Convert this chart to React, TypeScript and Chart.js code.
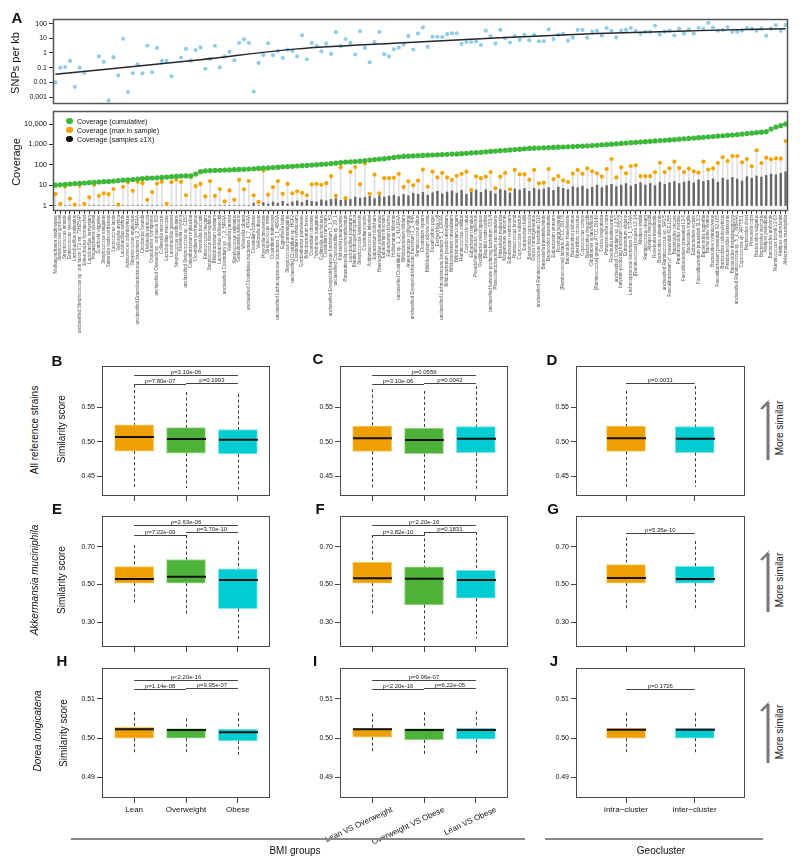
import React, { useEffect, useRef } from 'react';
import { Chart, registerables } from 'chart.js';
Chart.register(...registerables);

const FONT = "'Liberation Sans', Arial, Helvetica, sans-serif";

const species = [
  "Methanosphaera stadtmanae", "Streptococcus gordonii", "Streptococcus infantis", "Enterococcus faecalis",
  "Lactobacillus salivarius", "unclassified Streptococcus sp. oral taxon 071 str. 73H25AP", "Enterobacter hormaechei",
  "Lactobacillus fermentum", "Megasphaera elsdenii", "Scardovia wiggsiae", "Streptococcus sanguinis",
  "Sutterella wadsworthensis", "Lactococcus lactis", "Veillonella atypica", "Lactobacillus ruminis",
  "Actinomyces odontolyticus", "Streptococcus anginosus", "unclassified Enterobacteriaceae bacterium 9_2_54FAA",
  "Citrobacter freundii", "Klebsiella variicola", "Oxalobacter formigenes", "unclassified Olsenella sp. oral taxon 809",
  "Collinsella stercoris", "Lactobacillus mucosae", "Lactobacillus gasseri", "Streptococcus vestibularis",
  "Klebsiella oxytoca", "unclassified Streptococcus sp. C150", "Catenibacterium mitsuokai", "Clostridium perfringens",
  "Prevotella buccalis", "Enterococcus faecium", "Streptococcus thermophilus", "Bifidobacterium dentium",
  "Lactobacillus delbrueckii", "unclassified Clostridium sp. 7_3_54FAA", "Veillonella parvula", "Streptococcus salivarius",
  "Granulicatella adiacens", "Weissella cibaria", "unclassified Clostridiales bacterium 1_7_47FAA", "Clostridium bolteae",
  "Veillonella dispar", "Prevotella timonensis", "Streptococcus mitis", "Clostridium hathewayi",
  "unclassified Lachnospiraceae bacterium 3_1_46FAA", "Eggerthella lenta", "Streptococcus parasanguinis",
  "unclassified Clostridium sp. HGF2", "Clostridium symbiosum", "Gordonibacter pamelaeae", "Bifidobacterium breve",
  "Clostridium citroniae", "Turicibacter sanguinis", "Collinsella aerofaciens", "Clostridium ramosum",
  "unclassified Erysipelotrichaceae bacterium 3_1_53", "unclassified Coprobacillus sp. 29_1", "Klebsiella pneumoniae",
  "Parasutterella excrementihominis", "Lactobacillus plantarum", "Blautia hydrogenotrophica", "Streptococcus lutetiensis",
  "Clostridium nexile", "Acidaminococcus intestini", "Eubacterium dolichum", "Haemophilus parainfluenzae",
  "Eubacterium limosum", "Eubacterium biforme", "Holdemania filiformis", "unclassified Clostridium sp. 1_1_41A1FAA",
  "Bifidobacterium bifidum", "Anaerotruncus colihominis", "unclassified Erysipelotrichaceae bacterium 2_2_44A",
  "Ruminococcus albus", "Clostridium leptum", "Bifidobacterium adolescentis", "Desulfovibrio piger", "Escherichia coli",
  "unclassified Lachnospiraceae bacterium 5_1_63FAA", "Bifidobacterium pseudocatenulatum", "Bifidobacterium catenulatum",
  "Bifidobacterium longum", "Ruminococcus callidus", "Coprococcus catus", "Eubacterium ramulus",
  "Pseudoflavonifractor capillosus", "Oscillibacter valericigenes", "Bilophila wadsworthia",
  "unclassified butyrate-producing bacterium SS3/4", "Phascolarctobacterium succinatutens", "Mitsuokella multacida",
  "Megamonas funiformis", "Eubacterium ventriosum", "Ruminococcus bromii", "Coprococcus eutactus", "Eubacterium hallii",
  "Bacteroides coprocola", "Dorea formicigenerans", "unclassified Ruminococcaceae bacterium D16",
  "Barnesiella intestinihominis", "Bacteroides intestinalis", "Eubacterium siraeum", "Roseburia hominis",
  "[Ruminococcus] lactaris ATCC 29176", "Bacteroides massiliensis", "Bacteroides plebeius", "Butyrivibrio crossotus",
  "Coprococcus comes", "Bacteroides finegoldii", "Odoribacter splanchnicus", "[Ruminococcus] gnavus ATCC 29149",
  "Dorea longicatena", "Paraprevotella clara", "Roseburia inulinivorans", "unclassified Clostridium sp. L2-50",
  "butyrate-producing bacterium SSC/2", "Eubacterium eligens", "Lachnospiraceae bacterium 8_1_57FAA",
  "[Ruminococcus] torques L2-14", "Alistipes shahii", "Ruminococcus obeum", "Alistipes finegoldii",
  "Roseburia intestinalis", "Bacteroides salanitronis", "unclassified Ruminococcus sp. SR1/5",
  "Faecalibacterium cf. prausnitzii KLE1255", "Bacteroides caccae", "Parabacteroides merdae",
  "Faecalibacterium prausnitzii L2-6", "Bacteroides fragilis", "Eubacterium rectale", "Faecalibacterium prausnitzii SL3/3",
  "Bacteroides eggerthii", "Bacteroides ovatus", "Bacteroides xylanisolvens", "Faecalibacterium prausnitzii A2-165",
  "Bacteroides cellulosilyticus", "Parabacteroides distasonis", "Bacteroides thetaiotaomicron",
  "unclassified Ruminococcus sp. 5_1_39BFAA", "Coprococcus sp. ART55/1", "Bacteroides dorei", "Prevotella copri",
  "Bacteroides vulgatus", "Bacteroides stercoris", "Alistipes putredinis", "Bacteroides uniformis",
  "Ruminococcus bromii L2-63", "Alistipes onderdonkii", "Akkermansia muciniphila",
];

const snpPerKb = [
  0.01, 0.1, 0.11, 0.29, 0.005, 0.1, 0.044, null, null, 0.58, 0.25, 0.0006, 0.52, 0.03, 9.3, 0.0023, 0.042, 0.17,
  0.042, 3.2, 0.049, 2.2, 0.29, 0.29, 0.026, null, 0.48, 1.9, 0.3, 1.6, 2.4, 0.085, 0.39, 3.1, 0.105, 0.58, 1.2, 0.32,
  4.8, 8.5, 4.8, 0.0024, 0.21, 0.74, 4.6, 0.71, 1.4, 0.46, 1.7, 1.4, 0.58, 16, 0.37, 4.8, 2.9, 1.3, 4.4, 0.87, 26, 2.9,
  8.9, 4.8, 0.79, 30, 2.2, 0.23, 5.6, 27, 0.83, 0.58, 1.8, 2.3,
  3.8, 14, 1.7, 21, 55, 2.6, 12.6, 12.6, 12, 19, 22, 22, 4.2, 5.6, 5.6, 6.3, 3.5, 33, 13.4, 4.4, 37, 10, 5.1, 14, 8.1,
  17, 7.3, 17, 6.3, 6.3, 40, 8.9, 17, 20, 6.9, 11, 37, 37, 11, 28, 33, 15.5, 50, 32, 11.5, 33, 37, 50, 32, 20, 27, 27,
  71, 18, 28, 33, 15.5, 45, 21, 40, 21, 50, 43, 112, 52, 33, 37, 58, 27, 28, 33, 50, 45, 32, 45, 15, 45, 78, 32, 78,
];
const trendIdx = [0, 30, 50, 71, 92, 112, 133, 151];
const trendVals = [0.036, 0.35, 1.9, 4.8, 11, 21, 33, 45];
const snpTicks = [0.001, 0.01, 0.1, 1, 10, 100];

const covCumulative = [
  10, 10.5, 11, 11.3, 11.8, 12.3, 12.8, 13.3, 13.8, 14.3, 14.8, 15.3, 16, 16.8, 17.5, 18, 19, 20, 21, 22, 22.5, 23, 24,
  25, 26, 27, 28, 28.5, 29,
  35, 46, 50, 52, 53, 54, 55, 56, 58, 59, 60, 62, 64, 66, 68, 70, 73, 76, 79, 82, 84, 87, 90, 93, 97, 101, 105, 108,
  115, 120, 128, 135, 140, 145, 150, 160, 170, 180, 190, 200, 215, 230, 245,
  258, 265, 272, 280, 288, 295, 302, 310, 318, 326, 334, 342, 352, 365, 380, 395, 410, 430, 450, 470, 490, 510, 535,
  560, 585, 610, 635, 650, 665, 680, 695, 710, 728, 745, 765, 785, 805, 830, 855, 880, 910, 950, 990, 1030, 1070, 1120,
  1165, 1210, 1260, 1310, 1360, 1420, 1480, 1540, 1590, 1660, 1730, 1810, 1890, 1970, 2050, 2140, 2240, 2340, 2440,
  2550, 2660, 2780, 2890, 3050, 3200, 3400, 3600, 3800, 4000, 4200,
  5650, 7100, 8300, 10000,
];
const covMax = [
  3.7, 1.2, 8.5, 2.2, 1.1, 9.5, 1.2, 2.5, 10.5, 3, 4, 3.6, 6.5, 1.1, 8.3, 14, 5.3, 14.5, 12.5, 1.9, 4.6, 12, 14.5, 1.2,
  14, 19, 14.5, 3.2, 25, 9, 11.5, 2.8, 16, 3, 6.5, 1.6, 5.5, 1.9, 18, 6.3, 16, 3.2, 1.5, 52, 3.4, 8, 16, 3.8, 11.5, 4,
  5, 4.2, 3.2, 11, 11.5, 10.5, 12.5, 28, 3, 76, 2.3, 45, 78, 11, 120, 3.8, 33, 4, 22, 22, 23,
  36, 8.2, 15.4, 9.8, 16.6, 58, 8.5, 46, 24, 40, 24, 18, 29, 36, 46, 5.8, 27, 22, 26, 44, 7, 26, 40, 6.3, 56, 34, 34,
  18.5, 56, 12.3, 13.3, 62, 20, 28, 17, 14.3, 37, 56, 36, 67, 48, 38, 26, 62, 192, 24, 75, 38, 87, 94, 28, 28, 28, 43,
  126, 44, 67, 142, 70, 44, 65, 48, 41, 142, 58, 67, 122, 234, 153, 270, 270, 131, 192, 84, 513, 122, 224, 185, 208,
  200, 1470,
];
const covDense = [
  1, 1, 1, 1, 1, 1, 1, 1, 1, 1, 1, 1, 1, 1, 1, 1, 1, 1, 1, 1, 1, 1, 1, 1, 1, 1, 1, 1, 1, 1, 1, 1, 1, 1, 1, 1, 1, 1, 1,
  1, 1,
  1.3, 1, 1.4, 1.2, 1.5, 1.3, 1.6, 1.2, 1.5, 1.7, 1.4, 1.8, 1.6, 1.5, 1.9, 1.7, 2.0,
  2.2, 1.8, 2.4, 2.0, 2.6, 2.3, 2.5, 2.8, 2.2, 3.0, 2.6, 2.9, 3.2, 2.7,
  3.5, 3.0, 4.0, 3.6, 4.5, 3.2, 4.2, 5.0, 3.8, 4.6, 5.2, 4.0, 5.5, 3.6, 4.8, 5.8, 4.4, 6.0, 5.0, 3.8, 6.2, 5.4, 4.2,
  6.5, 5.8, 6.8, 5.0, 7.0, 6.0,
  6.5, 7.5, 5.5, 8.0, 7.0, 6.0, 8.5, 7.5, 9.0, 6.5, 8.0, 10, 7.5, 9.5, 11, 8.5, 10, 12, 9.0, 11, 13, 10, 12, 9.5, 14,
  11, 13, 15, 12, 14,
  16, 13, 18, 15, 17, 20, 14, 22, 18, 24, 20, 16, 26, 22, 28, 25, 30, 35, 32, 38, 45,
];
const covTicks = [1, 10, 100, 1000, 10000];

// Box plots: [lower whisker, Q1, median, Q3, upper whisker]
const bmiGroups = ['Lean', 'Overweight', 'Obese'];
const bmiPairs = ['Lean VS Overweight', 'Overweight VS Obese', 'Lean VS Obese'];
const geoGroups = ['intra\u2212cluster', 'inter\u2212cluster'];

const statsB = [[0.4306, 0.4863, 0.5066, 0.5245, 0.583], [0.4325, 0.4834, 0.5037, 0.5203, 0.572], [0.4306, 0.482, 0.5028, 0.5174, 0.569]];
const statsC = [[0.4334, 0.4858, 0.5051, 0.5227, 0.576], [0.4296, 0.4824, 0.5023, 0.5198, 0.5736], [0.4296, 0.4839, 0.5042, 0.5217, 0.5807]];
const statsD = [[0.4343, 0.4858, 0.5051, 0.5227, 0.5737], [0.4343, 0.4839, 0.5042, 0.5217, 0.5807]];
const statsE = [[0.391, 0.507, 0.53, 0.595, 0.711], [0.337, 0.507, 0.542, 0.633, 0.7634], [0.204, 0.372, 0.524, 0.583, 0.732]];
const statsF = [[0.343, 0.507, 0.533, 0.618, 0.7634], [0.19, 0.392, 0.531, 0.594, 0.775], [0.213, 0.427, 0.524, 0.576, 0.779]];
const statsG = [[0.36, 0.507, 0.535, 0.606, 0.749], [0.369, 0.507, 0.53, 0.597, 0.732]];
const statsH = [[0.49625, 0.5, 0.50225, 0.50275, 0.50667], [0.49625, 0.5, 0.50208, 0.50242, 0.505], [0.49517, 0.49933, 0.5015, 0.50233, 0.5065]];
const statsI = [[0.49667, 0.50025, 0.50225, 0.50258, 0.50625], [0.49542, 0.49958, 0.50208, 0.50242, 0.50667], [0.49567, 0.49975, 0.50208, 0.50258, 0.50683]];
const statsJ = [[0.49617, 0.5, 0.50217, 0.50258, 0.5065], [0.49617, 0.5, 0.50217, 0.50258, 0.5065]];

// [from group, to group, y value, label]
const bracketsB = [[1, 3, 0.5971, 'p=3.10e-06'], [1, 2, 0.583, 'p=7.80e-07'], [2, 3, 0.5858, 'p=0.1993']];
const bracketsC = [[1, 3, 0.5967, 'p=0.0556'], [1, 2, 0.583, 'p=3.10e-06'], [2, 3, 0.5858, 'p=0.0042']];
const bracketsD = [[1, 2, 0.5858, 'p=0.0031']];
const bracketsE = [[1, 3, 0.8185, 'p=2.63e-06'], [1, 2, 0.7634, 'p=7.22e-09'], [2, 3, 0.779, 'p=3.70e-10']];
const bracketsF = [[1, 3, 0.8185, 'p<2.20e-16'], [1, 2, 0.7634, 'p=3.82e-10'], [2, 3, 0.779, 'p=0.1831']];
const bracketsG = [[1, 2, 0.7753, 'p=5.35e-10']];
const bracketsH = [[1, 3, 0.5148, 'p<2.20e-16'], [1, 2, 0.5124, 'p=1.14e-08'], [2, 3, 0.5128, 'p=9.95e-07']];
const bracketsI = [[1, 3, 0.5148, 'p=9.96e-07'], [1, 2, 0.5124, 'p<2.20e-16'], [2, 3, 0.5128, 'p=6.22e-05']];
const bracketsJ = [[1, 2, 0.5126, 'p=0.1726']];

const ticksRow1 = [0.45, 0.5, 0.55];
const ticksRow2 = [0.3, 0.5, 0.7];
const ticksRow3 = [0.49, 0.5, 0.51];

const fill3 = ['#EEA000', '#4FB238', '#00CDD1'];
const line3 = ['#F6C868', '#A5DA92', '#80E6E8'];
const fill2 = ['#EEA000', '#00CDD1'];
const line2 = ['#F6C868', '#80E6E8'];

function makeFrame(width: number, color: string) {
  return {
    id: 'frame',
    afterDraw(chart: any) {
      const { ctx, chartArea: a } = chart;
      ctx.save();
      ctx.strokeStyle = color;
      ctx.lineWidth = width;
      ctx.strokeRect(Math.round(a.left) + 0.5, Math.round(a.top) + 0.5, Math.round(a.right - a.left) - 1, Math.round(a.bottom - a.top) - 1);
      ctx.restore();
    },
  };
}

function SnpChart() {
  const ref = useRef<HTMLCanvasElement>(null);
  useEffect(() => {
    const trend: (number | null)[] = species.map(() => null);
    trendIdx.forEach((k, j) => { trend[k] = trendVals[j]; });
    const chart = new Chart(ref.current as HTMLCanvasElement, {
      type: 'line',
      data: {
        labels: species,
        datasets: [
          { data: trend, borderColor: '#262626', borderWidth: 1.4, pointRadius: 0, spanGaps: true, cubicInterpolationMode: 'monotone', order: 0 } as any,
          { data: snpPerKb, showLine: false, pointRadius: 2.1, pointBackgroundColor: '#8FCDEA', pointBorderWidth: 0, pointBorderColor: 'rgba(0,0,0,0)', order: 1 } as any,
        ],
      },
      options: {
        responsive: false, animation: false, devicePixelRatio: 1,
        layout: { padding: { top: 19, right: 12, bottom: 3, left: 0 } },
        plugins: { legend: { display: false }, tooltip: { enabled: false } },
        scales: {
          x: { display: false, offset: true },
          y: {
            type: 'logarithmic', min: 0.00035, max: 205,
            afterBuildTicks: (s: any) => { s.ticks = snpTicks.map((v) => ({ value: v })); },
            afterFit: (s: any) => { s.width = 53; },
            grid: { drawOnChartArea: false, drawTicks: true, tickLength: 4, color: '#333' },
            border: { display: false },
            ticks: { callback: (v: any) => String(v), font: { family: FONT, size: 7 }, color: '#111', padding: 2 },
          },
        },
      } as any,
      plugins: [makeFrame(1.5, '#555')],
    });
    return () => chart.destroy();
  }, []);
  return <canvas ref={ref} width={800} height={110} style={{ position: 'absolute', left: 0, top: 0, width: 800, height: 110 }} />;
}

function CoverageChart() {
  const ref = useRef<HTMLCanvasElement>(null);
  useEffect(() => {
    const chart = new Chart(ref.current as HTMLCanvasElement, {
      type: 'bar',
      data: {
        labels: species,
        datasets: [
          { type: 'line', data: covCumulative, showLine: false, pointRadius: 2.6, pointBackgroundColor: '#3DB83A', pointBorderWidth: 0, pointBorderColor: 'rgba(0,0,0,0)', order: 0 },
          { type: 'line', data: covMax, showLine: false, pointRadius: 2.1, pointBackgroundColor: '#F6A300', pointBorderWidth: 0, pointBorderColor: 'rgba(0,0,0,0)', order: 1 },
          { type: 'bar', data: covDense.map((v) => [1, v]), backgroundColor: 'rgba(20,20,20,0.6)', barThickness: 1.8, grouped: false, order: 2 },
          { type: 'bar', data: covMax.map((v) => [1, v]), backgroundColor: 'rgba(60,60,60,0.16)', barThickness: 1, grouped: false, order: 3 },
        ] as any,
      },
      options: {
        responsive: false, animation: false, devicePixelRatio: 1,
        layout: { padding: { top: 11, right: 12, bottom: 0, left: 0 } },
        plugins: { legend: { display: false }, tooltip: { enabled: false } },
        scales: {
          x: {
            offset: true,
            grid: { offset: false, drawOnChartArea: false, drawTicks: true, tickLength: 3, color: '#333' },
            border: { display: false },
            afterFit: (s: any) => { s.height = 139; },
            ticks: { autoSkip: false, maxRotation: 90, minRotation: 90, padding: 1, font: { family: FONT, size: 4.5 }, color: '#555' },
          },
          y: {
            type: 'logarithmic', min: 0.54, max: 43500,
            afterBuildTicks: (s: any) => { s.ticks = covTicks.map((v) => ({ value: v })); },
            afterFit: (s: any) => { s.width = 53; },
            grid: { drawOnChartArea: false, drawTicks: true, tickLength: 4, color: '#333' },
            border: { display: false },
            ticks: { callback: (v: any) => Number(v).toLocaleString('en-US'), font: { family: FONT, size: 7.5 }, color: '#111', padding: 2 },
          },
        },
      } as any,
      plugins: [makeFrame(1.5, '#555')],
    });
    return () => chart.destroy();
  }, []);
  return <canvas ref={ref} width={800} height={250} style={{ position: 'absolute', left: 0, top: 100, width: 800, height: 250 }} />;
}

function BoxPanel(props: any) {
  const { left, top, w, h, yMin, yMax, yTicks, xMin, xMax, cats, stats, fills, lines, brackets, labels, rot, bottomH, labelShift = 0 } = props;
  const ref = useRef<HTMLCanvasElement>(null);
  const padL = 52, padT = 3, padR = 4;
  const cw = w + padL + padR;
  const ch = h + padT + bottomH;
  useEffect(() => {
    const extras = {
      id: 'boxExtras',
      afterDatasetsDraw(chart: any) {
        const { ctx } = chart;
        const xs = chart.scales.x, ys = chart.scales.y;
        const seg = (x1: number, y1: number, x2: number, y2: number) => { ctx.beginPath(); ctx.moveTo(x1, y1); ctx.lineTo(x2, y2); ctx.stroke(); };
        ctx.save();
        stats.forEach((s: number[], i: number) => {
          const px = Math.round(xs.getPixelForValue(i + 1)) + 0.5;
          ctx.strokeStyle = '#3a3a3a'; ctx.lineWidth = 1; ctx.setLineDash([3, 2.5]);
          seg(px, ys.getPixelForValue(s[4]), px, ys.getPixelForValue(s[3]));
          seg(px, ys.getPixelForValue(s[1]), px, ys.getPixelForValue(s[0]));
          ctx.setLineDash([]);
          ctx.strokeStyle = '#111'; ctx.lineWidth = 2;
          const m = ys.getPixelForValue(s[2]);
          seg(px - 19.5, m, px + 19.5, m);
        });
        ctx.strokeStyle = '#444'; ctx.lineWidth = 1; ctx.fillStyle = '#222';
        ctx.font = `6px ${FONT}`; ctx.textAlign = 'center'; ctx.textBaseline = 'bottom';
        brackets.forEach((b: any[]) => {
          const x1 = xs.getPixelForValue(b[0]), x2 = xs.getPixelForValue(b[1]);
          const y = Math.round(ys.getPixelForValue(b[2])) + 0.5;
          seg(x1, y, x2, y);
          ctx.fillText(b[3], (x1 + x2) / 2, y - 0.5);
        });
        ctx.restore();
      },
    };
    const chart = new Chart(ref.current as HTMLCanvasElement, {
      type: 'bar',
      data: {
        datasets: [{
          data: stats.map((s: number[], i: number) => ({ x: i + 1, y: [s[1], s[3]] })),
          backgroundColor: fills, borderColor: lines, borderWidth: 1, borderSkipped: false, barThickness: 39,
        }] as any,
      },
      options: {
        responsive: false, animation: false, devicePixelRatio: 1,
        layout: { padding: { top: padT, right: padR, bottom: 0, left: 0 } },
        plugins: { legend: { display: false }, tooltip: { enabled: false } },
        scales: {
          x: {
            type: 'linear', min: xMin, max: xMax, offset: false,
            afterBuildTicks: (s: any) => { s.ticks = cats.map((_: any, i: number) => ({ value: i + 1 })); },
            afterFit: (s: any) => { s.height = bottomH; },
            grid: { offset: false, drawOnChartArea: false, drawTicks: true, tickLength: 5, color: '#444' },
            border: { display: false },
            ticks: {
              callback: (v: any) => (labels ? cats[Math.round(v) - 1] : ''),
              autoSkip: false, maxRotation: rot, minRotation: rot, padding: 2, labelOffset: labelShift,
              font: { family: FONT, size: 8 }, color: '#111',
            },
          },
          y: {
            type: 'linear', min: yMin, max: yMax,
            afterBuildTicks: (s: any) => { s.ticks = yTicks.map((v: number) => ({ value: v })); },
            afterFit: (s: any) => { s.width = padL; },
            grid: { drawOnChartArea: false, drawTicks: true, tickLength: 5, color: '#444' },
            border: { display: false },
            ticks: { callback: (v: any) => Number(v).toFixed(2), font: { family: FONT, size: 7 }, color: '#111', padding: 2 },
          },
        },
      } as any,
      plugins: [extras, makeFrame(1, '#4a4a4a')],
    });
    return () => chart.destroy();
  }, []);
  return <canvas ref={ref} width={cw} height={ch} style={{ position: 'absolute', left: left - padL, top: top - padT, width: cw, height: ch }} />;
}

function Txt(props: any) {
  const { x, y, size = 10, rot = 0, bold = false, italic = false, children } = props;
  return (
    <div style={{
      position: 'absolute', left: x, top: y, transform: `translate(-50%,-50%) rotate(${rot}deg)`,
      fontSize: size, fontWeight: bold ? 700 : 400, fontStyle: italic ? 'italic' : 'normal',
      whiteSpace: 'nowrap', lineHeight: 1, fontFamily: FONT, color: '#111',
    }}>{children}</div>
  );
}

const legendItems = [
  ['#3DB83A', 'Coverage (cumulative)'],
  ['#F6A300', 'Coverage (max in sample)'],
  ['#111111', 'Coverage (samples \u22651X)'],
];

function Arrow({ x, top, bottom }: any) {
  return (
    <g fill="#777">
      <rect x={x - 1.5} y={top + 3} width={3} height={bottom - top - 3} />
      <polygon points={`${x + 1.5},${top} ${x - 8},${top + 9.5} ${x - 5.5},${top + 10.5} ${x - 1.5},${top + 6.5}`} />
    </g>
  );
}

export default function App() {
  const row1 = { top: 363, h: 133, yMin: 0.4211, yMax: 0.6095, yTicks: ticksRow1, bottomH: 10 };
  const row2 = { top: 513, h: 134, yMin: 0.1675, yMax: 0.8636, yTicks: ticksRow2, bottomH: 10 };
  const row3 = { top: 665, h: 133, yMin: 0.4848, yMax: 0.5178, yTicks: ticksRow3, bottomH: 50 };
  const colB = { left: 102, w: 168, xMin: 0.38, xMax: 3.62, cats: bmiGroups, fills: fill3, lines: line3 };
  const colC = { left: 340, w: 168, xMin: 0.38, xMax: 3.62, cats: bmiPairs, fills: fill3, lines: line3 };
  const colD = { left: 576, w: 169, xMin: 0.272, xMax: 2.732, cats: geoGroups, fills: fill2, lines: line2 };
  return (
    <div style={{ position: 'absolute', left: 0, top: 0, width: 800, height: 868, background: '#fff', overflow: 'hidden' }}>
      <SnpChart />
      <CoverageChart />

      <BoxPanel {...row1} {...colB} stats={statsB} brackets={bracketsB} labels={false} rot={0} />
      <BoxPanel {...row1} {...colC} stats={statsC} brackets={bracketsC} labels={false} rot={0} />
      <BoxPanel {...row1} {...colD} stats={statsD} brackets={bracketsD} labels={false} rot={0} />
      <BoxPanel {...row2} {...colB} stats={statsE} brackets={bracketsE} labels={false} rot={0} />
      <BoxPanel {...row2} {...colC} stats={statsF} brackets={bracketsF} labels={false} rot={0} />
      <BoxPanel {...row2} {...colD} stats={statsG} brackets={bracketsG} labels={false} rot={0} />
      <BoxPanel {...row3} {...colB} stats={statsH} brackets={bracketsH} labels={true} rot={0} />
      <BoxPanel {...row3} {...colC} stats={statsI} brackets={bracketsI} labels={true} rot={25} labelShift={20} />
      <BoxPanel {...row3} {...colD} stats={statsJ} brackets={bracketsJ} labels={true} rot={0} />

      <Txt x={17} y={17} size={15} bold>A</Txt>
      <Txt x={15} y={63} size={11} rot={-90}>SNPs per kb</Txt>
      <Txt x={16} y={162} size={11} rot={-90}>Coverage</Txt>
      {legendItems.map((it, i) => (
        <div key={i} style={{ position: 'absolute', left: 66, top: 117.5 + i * 9, height: 7, display: 'flex', alignItems: 'center' }}>
          <div style={{ width: 6.5, height: 6.5, borderRadius: '50%', background: it[0] }} />
          <div style={{ marginLeft: 4.5, fontSize: 7, fontFamily: FONT, color: '#111', whiteSpace: 'nowrap', lineHeight: 1 }}>{it[1]}</div>
        </div>
      ))}

      <Txt x={57} y={360} size={15} bold>B</Txt>
      <Txt x={318} y={358} size={15} bold>C</Txt>
      <Txt x={552} y={359} size={15} bold>D</Txt>
      <Txt x={57} y={508} size={15} bold>E</Txt>
      <Txt x={320} y={508} size={15} bold>F</Txt>
      <Txt x={553} y={508} size={15} bold>G</Txt>
      <Txt x={62} y={660} size={15} bold>H</Txt>
      <Txt x={315} y={660} size={15} bold>I</Txt>
      <Txt x={554} y={660} size={15} bold>J</Txt>

      <Txt x={35} y={430} size={10} rot={-90}>All reference strains</Txt>
      <Txt x={62} y={429} size={10} rot={-90}>Similarity score</Txt>
      <Txt x={35} y={580} size={10} rot={-90} italic>Akkermansia muciniphila</Txt>
      <Txt x={62} y={580} size={10} rot={-90}>Similarity score</Txt>
      <Txt x={38} y={731} size={10} rot={-90} italic>Dorea longicatena</Txt>
      <Txt x={64} y={733} size={10} rot={-90}>Similarity score</Txt>

      <Txt x={780} y={428} size={10} rot={-90}>More similar</Txt>
      <Txt x={780} y={580} size={10} rot={-90}>More similar</Txt>
      <Txt x={780} y={732} size={10} rot={-90}>More similar</Txt>

      <Txt x={295} y={851} size={10}>BMI groups</Txt>
      <Txt x={661} y={851} size={10}>Geocluster</Txt>

      <svg width={800} height={868} style={{ position: 'absolute', left: 0, top: 0, pointerEvents: 'none' }}>
        <Arrow x={768} top={399} bottom={460} />
        <Arrow x={768} top={550} bottom={612} />
        <Arrow x={768} top={701} bottom={763} />
        <line x1={71} y1={839} x2={525} y2={839} stroke="#888" strokeWidth={2.2} />
        <line x1={545} y1={839} x2={763} y2={839} stroke="#888" strokeWidth={2.2} />
      </svg>
    </div>
  );
}
